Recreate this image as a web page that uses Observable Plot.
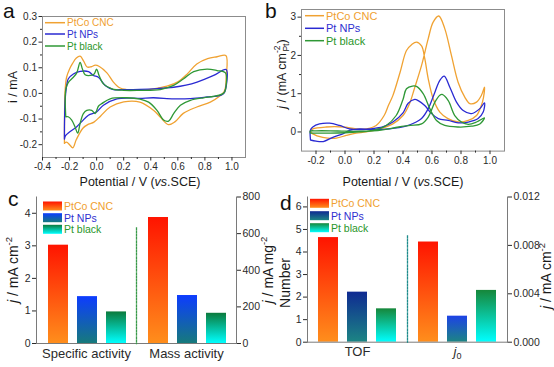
<!DOCTYPE html>
<html><head><meta charset="utf-8">
<script src="https://cdn.jsdelivr.net/npm/d3@7"></script>
<script src="https://cdn.jsdelivr.net/npm/@observablehq/plot@0.6"></script>
<style>
html,body{margin:0;padding:0;background:#fff;}
#chart{position:relative;width:554px;height:367px;overflow:hidden;background:#fff;font-family:"Liberation Sans",Arial,sans-serif;}
#chart > svg{position:absolute;left:0;top:0;max-width:none;}
</style></head>
<body><div id="chart"></div>
<script>
const W = 554, H = 367;
const FONT = "'Liberation Sans', Arial, Helvetica, sans-serif";
const materials = ["PtCo CNC", "Pt NPs", "Pt black"];
const lineColor = ["#f0a232", "#2a2ad2", "#2f9836"];
const legendTextColor = ["#f0a030", "#2f2fd0", "#2a962a"];

// ---- Panel a: CV in H2SO4 (potential V vs SCE, current mA) ----
const aXTicks = [-0.4, -0.2, 0, 0.2, 0.4, 0.6, 0.8, 1.0];
const aXMinor = [-0.3, -0.1, 0.1, 0.3, 0.5, 0.7, 0.9];
const aYTicks = [-0.2, -0.1, 0, 0.1, 0.2, 0.3];
const aYMinor = [-0.15, -0.05, 0.05, 0.15, 0.25];
const aPtCoV = [-0.238,-0.237,-0.233,-0.222,-0.2,-0.18,-0.15,-0.122,-0.095,-0.07,-0.04,-0.01,0.02,0.076,0.124,0.17,0.22,0.32,0.42,0.52,0.6,0.67,0.74,0.82,0.89,0.955,0.957,0.952,0.94,0.915,0.84,0.74,0.64,0.58,0.53,0.47,0.42,0.32,0.2,0.1,0.03,-0.02,-0.06,-0.1,-0.15,-0.176,-0.2,-0.222,-0.238];
const aPtCoI = [-0.195,-0.08,0.01,0.063,0.095,0.115,0.138,0.145,0.125,0.103,0.104,0.11,0.105,0.08,0.044,0.022,0.015,0.013,0.018,0.028,0.045,0.076,0.115,0.136,0.143,0.148,0.06,0.024,0.005,-0.008,-0.034,-0.053,-0.078,-0.11,-0.122,-0.092,-0.066,-0.034,-0.033,-0.053,-0.088,-0.112,-0.12,-0.135,-0.18,-0.212,-0.2,-0.19,-0.195];
const aNPsV = [-0.238,-0.237,-0.232,-0.22,-0.209,-0.172,-0.122,-0.06,-0.024,0.013,0.063,0.124,0.2,0.32,0.45,0.569,0.66,0.742,0.865,0.957,0.958,0.94,0.915,0.816,0.693,0.569,0.42,0.32,0.15,0.05,0.0,-0.061,-0.11,-0.147,-0.196,-0.23,-0.238];
const aNPsI = [-0.178,-0.1,-0.02,0.035,0.057,0.076,0.086,0.085,0.07,0.063,0.031,0.015,0.015,0.016,0.019,0.024,0.032,0.044,0.07,0.093,0.03,0.0,-0.008,-0.014,-0.02,-0.021,-0.017,-0.019,-0.021,-0.046,-0.072,-0.085,-0.11,-0.13,-0.149,-0.165,-0.178];
const aBlackV = [-0.228,-0.232,-0.228,-0.21,-0.172,-0.147,-0.122,-0.105,-0.085,-0.048,-0.018,0.0,0.018,0.05,0.113,0.2,0.32,0.47,0.569,0.643,0.717,0.816,0.89,0.952,0.957,0.945,0.93,0.865,0.79,0.693,0.619,0.569,0.532,0.495,0.446,0.384,0.32,0.224,0.1,0.038,0.013,-0.011,-0.036,-0.073,-0.098,-0.122,-0.14,-0.16,-0.184,-0.21,-0.228];
const aBlackI = [-0.091,-0.03,0.015,0.042,0.063,0.08,0.121,0.095,0.073,0.07,0.076,0.095,0.07,0.037,0.018,0.012,0.012,0.015,0.031,0.057,0.085,0.095,0.089,0.08,0.03,0.005,-0.002,-0.012,-0.017,-0.027,-0.046,-0.079,-0.108,-0.104,-0.066,-0.034,-0.022,-0.017,-0.021,-0.04,-0.05,-0.079,-0.066,-0.066,-0.079,-0.117,-0.155,-0.13,-0.104,-0.091,-0.091];

// ---- Panel b: methanol oxidation CV (j, mA cm-2 Pt) ----
const bXTicks = [-0.2, 0, 0.2, 0.4, 0.6, 0.8, 1.0];
const bXMinor = [-0.1, 0.1, 0.3, 0.5, 0.7, 0.9];
const bYTicks = [0, 1, 2, 3];
const bYMinor = [0.5, 1.5, 2.5];
const bPtCoV = [-0.24,-0.222,-0.153,-0.06,0.008,0.077,0.145,0.238,0.33,0.4,0.445,0.48,0.528,0.574,0.608,0.647,0.688,0.734,0.78,0.826,0.861,0.907,0.941,0.962,0.955,0.94,0.907,0.85,0.78,0.71,0.654,0.608,0.574,0.55,0.528,0.493,0.459,0.424,0.38,0.33,0.3,0.27,0.215,0.145,0.077,-0.015,-0.13,-0.222,-0.24];
const bPtCoJ = [0.02,-0.05,-0.14,-0.16,-0.09,-0.03,0.0,0.08,0.21,0.43,0.74,1.15,1.74,2.44,2.87,3.03,2.7,2.0,1.3,0.91,0.74,0.78,0.96,1.17,0.9,0.69,0.43,0.3,0.26,0.35,0.52,0.87,1.39,1.92,2.25,2.35,2.28,2.13,1.56,0.95,0.7,0.43,0.17,0.08,0.08,0.13,0.13,0.08,0.02];
const bNPsV = [-0.238,-0.2,-0.15,-0.084,-0.015,0.031,0.1,0.19,0.307,0.42,0.48,0.528,0.574,0.62,0.654,0.684,0.723,0.769,0.815,0.872,0.93,0.962,0.953,0.918,0.85,0.78,0.712,0.643,0.597,0.55,0.505,0.481,0.436,0.4,0.33,0.26,0.169,0.1,0.031,-0.038,-0.107,-0.176,-0.222,-0.238,-0.238];
const bNPsJ = [-0.21,-0.24,-0.25,-0.14,-0.05,0.04,0.08,0.06,0.08,0.15,0.24,0.35,0.61,1.04,1.35,1.46,1.17,0.78,0.56,0.48,0.61,0.76,0.52,0.35,0.26,0.24,0.3,0.35,0.48,0.69,0.82,0.85,0.75,0.5,0.26,0.13,0.08,0.06,0.08,0.17,0.23,0.21,0.13,0.05,-0.21];
const bBlackV = [-0.24,-0.2,-0.1,0.0,0.1,0.25,0.37,0.45,0.528,0.574,0.62,0.654,0.67,0.712,0.757,0.803,0.85,0.907,0.962,0.93,0.872,0.78,0.688,0.631,0.585,0.539,0.493,0.465,0.424,0.4,0.353,0.284,0.2,0.1,0.0,-0.1,-0.2,-0.24,-0.24];
const bBlackJ = [-0.03,-0.03,-0.03,-0.02,0.0,0.05,0.13,0.17,0.21,0.39,0.78,0.96,0.98,0.82,0.43,0.26,0.2,0.26,0.37,0.21,0.15,0.13,0.17,0.3,0.61,1.0,1.19,1.2,1.13,0.85,0.43,0.17,0.05,0.02,0.02,0.03,0.03,0.02,-0.03];

// ---- Panel c: activities ----
const cGroups = ["Specific activity", "Mass activity"];
const cSpecific = [3.02, 1.44, 0.97];   // mA cm-2
const cMass = [688, 262, 165];          // mA mg-2
const cLeftTicks = [0, 1, 2, 3, 4];
const cRightTicks = [0, 200, 400, 600, 800];
const cLeftMax = 4.5, cRightMax = 800;

// ---- Panel d: TOF and j0 ----
const dGroups = ["TOF", "j0"];
const dTOF = [4.64, 2.22, 1.48];
const dJ0 = [0.00828, 0.00215, 0.00428];
const dLeftTicks = [0, 1, 2, 3, 4, 5, 6];
const dRightTicks = [0, 0.004, 0.008, 0.012];
const dLeftMax = 6.44, dRightMax = 0.012;

function baseStyle(fs) {
  return {background: "transparent", fontFamily: FONT, fontSize: fs + "px", color: "#2a2a2a", overflow: "visible"};
}

function cvPanel(o) {
  const marks = [];
  o.series.forEach((s, k) => {
    marks.push(Plot.line(s.V.map((v, i) => ({v, c: s.C[i]})),
      {x: "v", y: "c", stroke: lineColor[k], strokeWidth: 1.3, curve: "catmull-rom"}));
  });
  marks.push(
    Plot.frame({stroke: "#8c8c8c"}),
    Plot.axisX({ticks: o.xTicks, tickFormat: d => d.toFixed(1), tickSize: 3.5, tickPadding: 2, label: null}),
    Plot.axisX({ticks: o.xMinor, tickFormat: () => "", tickSize: 2, label: null}),
    Plot.axisY({ticks: o.yTicks, tickFormat: o.yFmt, tickSize: 3.5, tickPadding: 2, label: null}),
    Plot.axisY({ticks: o.yMinor, tickFormat: () => "", tickSize: 2, label: null})
  );
  return Plot.plot({
    width: W, height: H,
    marginLeft: o.L, marginRight: W - o.R, marginTop: o.T, marginBottom: H - o.B,
    style: baseStyle(10),
    x: {domain: o.xDomain, label: null},
    y: {domain: o.yDomain, label: null},
    marks
  });
}

function barPanel(o) {
  const fac = o.rightMax / o.leftMax;
  const rows = [];
  o.groups.forEach((g, gi) => materials.forEach((m, mi) => {
    const raw = o.values[gi][mi];
    rows.push({group: g, mat: m, y: gi === 0 ? raw : raw / fac, grad: o.gradIds[gi][mi]});
  }));
  return Plot.plot({
    width: W, height: H,
    marginLeft: o.L, marginRight: W - o.R, marginTop: o.T, marginBottom: H - o.B,
    style: baseStyle(10.5),
    fx: {domain: o.groups, paddingInner: 0, paddingOuter: 0, axis: null, label: null},
    x: {domain: materials, paddingInner: 0.327, paddingOuter: 0.34, align: o.align, axis: null, label: null},
    y: {domain: [0, o.leftMax], label: null},
    marks: [
      ...rows.map(r => Plot.barY([r], {fx: "group", x: "mat", y: "y", fill: `url(#${r.grad})`})),
      Plot.frame({anchor: "bottom", stroke: "#7a7a7a"}),
      Plot.frame({anchor: "left", facetAnchor: "left", stroke: "#7a7a7a"}),
      Plot.frame({anchor: "right", facetAnchor: "right", stroke: "#7a7a7a"}),
      Plot.frame({anchor: "left", facetAnchor: "right", insetTop: o.sepInset, stroke: o.sepColor, strokeWidth: 1.3, strokeDasharray: "1.6,1.6"}),
      Plot.axisY({anchor: "left", ticks: o.leftTicks, tickFormat: d => String(d), tickSize: 4, tickPadding: 2, label: null}),
      Plot.axisY({anchor: "right", ticks: o.rightTicks.map(v => v / fac), tickFormat: d => o.fmt(d * fac), tickSize: 4, tickPadding: 2, label: null}),
      Plot.axisFx({anchor: "bottom", tickSize: 0, tickPadding: 5, fontSize: 13, label: null})
    ]
  });
}

const chart = document.getElementById("chart");

const svgA = cvPanel({L: 42, R: 245, T: 16, B: 157, xDomain: [-0.4, 1.1], yDomain: [-0.25, 0.3],
  xTicks: aXTicks, xMinor: aXMinor, yTicks: aYTicks, yMinor: aYMinor, yFmt: d => d.toFixed(1),
  series: [{V: aPtCoV, C: aPtCoI}, {V: aNPsV, C: aNPsI}, {V: aBlackV, C: aBlackI}]});
const svgB = cvPanel({L: 301, R: 504, T: 9, B: 150.6, xDomain: [-0.3, 1.1], yDomain: [-0.5, 3.2],
  xTicks: bXTicks, xMinor: bXMinor, yTicks: bYTicks, yMinor: bYMinor, yFmt: d => String(d),
  series: [{V: bPtCoV, C: bPtCoJ}, {V: bNPsV, C: bNPsJ}, {V: bBlackV, C: bBlackJ}]});
const svgC = barPanel({L: 35, R: 236, T: 196.5, B: 343, groups: cGroups, values: [cSpecific, cMass],
  leftMax: cLeftMax, rightMax: cRightMax, leftTicks: cLeftTicks, rightTicks: cRightTicks,
  fmt: v => String(Math.round(v)), align: 0.54, sepInset: 31, sepColor: "#3a9a4a",
  gradIds: [["gPtCo", "gNPsC", "gBlackC"], ["gPtCo", "gNPsC", "gBlackC"]]});
const svgD = barPanel({L: 307, R: 507, T: 196.5, B: 341.7, groups: dGroups, values: [dTOF, dJ0],
  leftMax: dLeftMax, rightMax: dRightMax, leftTicks: dLeftTicks, rightTicks: dRightTicks,
  fmt: v => v.toFixed(3), align: 0.47, sepInset: 39, sepColor: "#1f8c8c",
  gradIds: [["gPtCo", "gNPsD1", "gBlackD"], ["gPtCo", "gNPsD2", "gBlackD"]]});

// j0 label: italic j with subscript 0
d3.select(svgD).selectAll("text").filter(function() { return this.textContent === "j0"; }).each(function() {
  const s = d3.select(this);
  s.text(null);
  s.append("tspan").attr("font-style", "italic").text("j");
  s.append("tspan").attr("font-size", "9px").attr("dy", "3").text("0");
});

for (const s of [svgA, svgB, svgC, svgD]) chart.appendChild(s);

// ---- overlay: gradients, legends, titles, panel letters ----
const ov = d3.create("svg").attr("width", W).attr("height", H).attr("viewBox", `0 0 ${W} ${H}`)
  .style("font-family", FONT).style("overflow", "visible");
const defs = ov.append("defs");
const gradients = [
  ["gPtCo", "#ff1400", "#ff8e1c"],
  ["gNPsC", "#0d3cff", "#167a7c"],
  ["gBlackC", "#0b7a3c", "#00ffff"],
  ["gNPsD1", "#0f2a92", "#1c8584"],
  ["gNPsD2", "#1d42e6", "#1c8584"],
  ["gBlackD", "#16873a", "#00ffff"]
];
for (const [id, top, bottom] of gradients) {
  const lg = defs.append("linearGradient").attr("id", id).attr("x1", 0).attr("y1", 0).attr("x2", 0).attr("y2", 1);
  lg.append("stop").attr("offset", "0%").attr("stop-color", top);
  lg.append("stop").attr("offset", "100%").attr("stop-color", bottom);
}

function richText(sel, o) {
  const size = o.size;
  const t = sel.append("text")
    .attr("transform", `translate(${o.x},${o.y}) rotate(${o.rotate || 0})`)
    .attr("text-anchor", o.anchor || "middle").attr("font-size", size).attr("fill", o.fill || "#1a1a1a");
  let shift = 0;
  for (const p of o.parts) {
    const ts = t.append("tspan").text(p.t);
    const target = p.sup ? -0.42 * size : p.sub ? 0.3 * size : 0;
    if (target !== shift) ts.attr("dy", target - shift);
    shift = target;
    if (p.sup || p.sub) ts.attr("font-size", size * 0.68);
    if (p.italic) ts.attr("font-style", "italic");
    if (p.dx) ts.attr("dx", p.dx);
  }
  return t;
}

// line legends (a, b)
function lineLegend(x1, x2, tx, ys, fs) {
  ys.forEach((y, k) => {
    ov.append("line").attr("x1", x1).attr("x2", x2).attr("y1", y).attr("y2", y)
      .attr("stroke", lineColor[k]).attr("stroke-width", 1.5);
    ov.append("text").attr("x", tx).attr("y", y).attr("dominant-baseline", "central")
      .attr("font-size", fs).attr("fill", legendTextColor[k]).text(materials[k]);
  });
}
lineLegend(45, 65, 67, [22.7, 34, 46], 10);
lineLegend(305, 324, 326, [15.7, 28.3, 40.7], 11);

// swatch legends (c, d)
function swatchLegend(x, tx, ys, ids, fs) {
  ys.forEach((y, k) => {
    ov.append("rect").attr("x", x).attr("y", y - 4.5).attr("width", 19).attr("height", 9)
      .attr("fill", `url(#${ids[k]})`);
    ov.append("text").attr("x", tx).attr("y", y).attr("dominant-baseline", "central")
      .attr("font-size", fs).attr("fill", legendTextColor[k]).text(materials[k]);
  });
}
swatchLegend(43, 64, [206, 217.7, 229.3], ["gPtCo", "gNPsC", "gBlackC"], 10.5);
swatchLegend(310, 331, [203.3, 215.7, 227.7], ["gPtCo", "gNPsD1", "gBlackD"], 10.5);

// axis titles
richText(ov, {x: 16.5, y: 87, rotate: -90, size: 12.5, parts: [{t: "i / mA"}]});
richText(ov, {x: 140, y: 185.5, size: 12.5, parts: [{t: "Potential / V ("}, {t: "vs", italic: true}, {t: ".SCE)"}]});
richText(ov, {x: 403, y: 185.5, size: 12.5, parts: [{t: "Potential / V ("}, {t: "vs", italic: true}, {t: ".SCE)"}]});
richText(ov, {x: 285.5, y: 74, rotate: -90, size: 12.5,
  parts: [{t: "j", italic: true}, {t: " / (mA cm"}, {t: "-2", sup: true}, {t: "Pt", sub: true, dx: -6}, {t: ")"}]});
richText(ov, {x: 18, y: 270, rotate: -90, size: 14, parts: [{t: "j", italic: true}, {t: " / mA cm"}, {t: "-2", sup: true}]});
richText(ov, {x: 273, y: 270, rotate: -90, size: 14, parts: [{t: "j", italic: true}, {t: " / mA mg"}, {t: "-2", sup: true}]});
richText(ov, {x: 290, y: 283, rotate: -90, size: 14, parts: [{t: "Number"}]});
richText(ov, {x: 550.5, y: 276, rotate: -90, size: 14, parts: [{t: "j", italic: true}, {t: " / mA cm"}, {t: "-2", sup: true}]});

// panel letters
[["a", 3, 18], ["b", 265, 18], ["c", 8, 206], ["d", 280, 210]].forEach(([t, x, y]) => {
  ov.append("text").attr("x", x).attr("y", y).attr("font-size", 21).attr("fill", "#111").text(t);
});

chart.appendChild(ov.node());
</script></body></html>
